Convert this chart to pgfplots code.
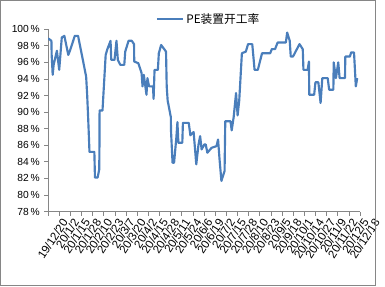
\documentclass[border=0pt]{standalone}
\usepackage{pgfplots}
\pgfplotsset{compat=1.18}
\usepackage{fontspec}
\setmainfont{Liberation Sans}
\newfontfamily\cjk{Noto Sans CJK SC}
\definecolor{lineblue}{RGB}{74,126,187}
\definecolor{axgray}{RGB}{134,134,134}
\begin{document}
\begin{tikzpicture}
\begin{axis}[
  scale only axis, width=319.4pt, height=186.7pt,
  xmin=0, xmax=364, ymin=78, ymax=100, enlargelimits=false,
  axis x line*=bottom, axis y line*=left,
  axis line style={draw=axgray, line width=0.8pt},
  tick style={draw=axgray, line width=0.8pt},
  tick align=outside, major tick length=4pt,
  ytick={78,80,...,100},
  yticklabels={78\,\%,80\,\%,82\,\%,84\,\%,86\,\%,88\,\%,90\,\%,92\,\%,94\,\%,96\,\%,98\,\%,100\,\%},
  yticklabel style={font=\fontsize{10.5}{12}\selectfont, xshift=-1pt},
  xtick={0,13,...,364},
  xticklabels={19/12/20,20/1/2,20/1/15,20/1/28,20/2/10,20/2/23,20/3/7,20/3/20,20/4/2,20/4/15,20/4/28,20/5/11,20/5/24,20/6/6,20/6/19,20/7/2,20/7/15,20/7/28,20/8/10,20/8/23,20/9/5,20/9/18,20/10/1,20/10/14,20/10/27,20/11/9,20/11/22,20/12/5,20/12/18},
  xticklabel style={font=\fontsize{11.8}{13}\selectfont, rotate=57, anchor=east, xshift=9pt, yshift=-17pt},
  legend style={at={(0.514,1.057)}, anchor=center, draw=none, fill=none,
    font=\cjk\fontsize{12}{14}\selectfont, inner sep=0pt},
  legend image code/.code={\draw[#1, line width=2.4pt] (0pt,0pt) -- (27pt,0pt);},
]
\addplot[color=lineblue, line width=2.2pt, line join=round, no marks] coordinates {
(0,98.9) (3.9,98.6) (4.2,96.9) (5.4,94.5) (6.5,95.7) (10.3,97.4) (13.0,95.1)
(16.0,99.0) (19.0,99.2) (23.6,96.9) (25.5,97.4) (31.2,99.2) (35.0,99.2)
(44.4,94.3) (45.6,92.1) (46.4,90.2) (47.2,88.2) (48.3,85.2) (54.0,85.2)
(54.7,82.1) (57.8,82.1) (59.7,83.1) (59.9,85.5) (60.1,90.2) (63.5,90.2)
(67.2,96.9) (69.2,97.6) (72.9,98.6) (73.7,96.3) (77.5,96.3) (79.8,98.6)
(81.4,96.3) (84.3,95.7) (88.9,95.7) (90.0,97.3) (93.9,98.6) (97.7,98.6)
(100.3,98.2) (100.5,96.1) (105.3,95.9) (109.1,94.7) (110.2,93.1) (111.7,94.5)
(114.8,92.1) (115.9,94.1) (117.8,93.1) (122.4,93.1) (123.1,91.6) (124.2,95.1)
(128.1,95.1) (129.2,97.1) (131.9,98.1) (137.6,97.3) (138.4,93.1) (139.5,91.4)
(143.2,89.4) (143.4,87.8) (145.2,83.9) (147.0,83.9) (149.7,87.0) (150.9,88.8)
(152.0,86.3) (156.6,86.3) (157.3,88.7) (164.1,88.7) (166.0,87.2) (169.8,87.6)
(172.9,83.7) (175.5,86.1) (177.4,87.1) (179.1,85.5) (182.3,86.1) (183.9,86.1)
(185.8,85.1) (190.8,85.7) (196.5,85.9) (198.3,86.7) (200.2,84.1) (202.2,81.7)
(205.9,82.9) (206.7,88.9) (212.8,88.9) (214.2,87.8) (216.5,89.4) (219.3,92.3)
(221.1,89.6) (223.0,91.4) (226.1,97.1) (230.7,97.3) (233.3,98.2) (238.2,98.2)
(240.9,95.1) (244.7,95.1) (249.6,97.1) (259.1,97.1) (261.0,97.6) (264.8,97.6)
(267.8,98.4) (277.4,98.4) (278.9,99.6) (281.9,98.6) (283.1,96.7) (285.7,96.7)
(293.3,98.2) (297.1,97.6) (297.9,95.1) (302.8,95.1) (304.3,96.1) (304.7,92.1)
(310.4,92.1) (311.9,93.6) (315.3,93.6) (317.9,91.1) (319.9,94.1) (326.2,94.1)
(327.9,92.7) (332.8,92.7) (333.2,96.0) (335.8,94.1) (338.5,96.0) (340.1,94.1)
(346.4,94.1) (346.7,96.7) (352.1,96.7) (353.5,97.2) (356.9,97.2) (359.0,93.1)
(360.6,94.1)
};
\addlegendentry{PE装置开工率}
\end{axis}
\draw[axgray, line width=0.8pt] (-48.8pt,-75.8pt) rectangle (335.2pt,216.2pt);
\end{tikzpicture}
\end{document}
